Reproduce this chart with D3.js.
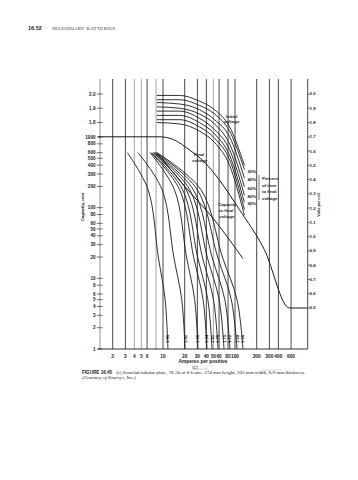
<!DOCTYPE html>
<html><head><meta charset="utf-8">
<script src="https://cdn.jsdelivr.net/npm/d3@7"></script>
<style>body{margin:0;background:#fff}svg{display:block}</style>
</head><body><svg id="c" width="358" height="480"></svg>
<script>
// ---------- data ----------
const xTickLabels = [2,3,4,5,6,10,20,30,40,50,60,80,100,200,300,400,600];
const xGridValues = [2,3,4,5,6,8,10,20,30,40,50,60,80,100,200,300,400,600];
const capTickValues = [1,2,3,4,5,6,8,10,20,30,40,50,60,80,100,200,300,400,500,600,800,1000];
const leftVoltTicks = [1.8,1.9,2.0];
const rightVoltTicks = [0.5,0.6,0.7,0.8,0.9,1.0,1.1,1.2,1.3,1.4,1.5,1.6,1.7,1.8,1.9,2.0];

// final voltage curve (amperes, volts)
const finalVoltI = [1.25, 9, 14, 23, 38, 60, 115, 255, 570, 1000];
const finalVoltV = [1.70, 1.70, 1.68, 1.61, 1.52, 1.40, 1.19, 0.91, 0.50, 0.50];

// upper family: voltage vs current (initial voltage and % of time to final voltage)
const upperI = [8.2, 17, 32, 52, 84, 135];
const upperV1 = [1.99, 1.99, 1.95, 1.89, 1.77, 1.50];
const upperV2 = [1.96, 1.96, 1.92, 1.86, 1.74, 1.47];
const upperV3 = [1.94, 1.93, 1.89, 1.82, 1.70, 1.41];
const upperV4 = [1.91, 1.90, 1.86, 1.79, 1.65, 1.35];
const upperV5 = [1.88, 1.88, 1.83, 1.75, 1.61, 1.29];
const upperV6 = [1.85, 1.85, 1.80, 1.72, 1.57, 1.24];
const upperV7 = [1.82, 1.82, 1.77, 1.69, 1.54, 1.19];
const upperV8 = [1.80, 1.79, 1.74, 1.66, 1.50, 1.15];
const percentLabels = ["20%","40%","60%","80%","90%"];

// lower family: capacity (min) vs current, one curve per final voltage
const capC = [600, 180, 20, 5, 1];
const curveLabels = ["1.96","1.92","1.88","1.84","1.81","1.78","1.75","1.72","1.69","1.66"];
const capI196 = [3.2, 6.2, 8.6, 10.7, 11.7];
const capI192 = [4.5, 9.7, 14.1, 18.2, 20.2];
const capI188 = [6.6, 14.4, 21.2, 27.5, 30.6];
const capI184 = [6.8, 17.0, 26.6, 36.0, 40.8];
const capI181 = [7.0, 18.7, 30.2, 41.9, 47.9];
const capI178 = [7.3, 21.0, 35.2, 50.2, 58.0];
const capI175 = [7.5, 23.5, 41.1, 60.1, 70.3];
const capI172 = [7.7, 26.3, 47.9, 72.1, 85.1];
const capI169 = [8.0, 29.9, 57.3, 88.8, 106.6];
const capI166 = [8.25, 33.6, 66.8, 106.6, 129];

// capacity to final voltage
const capFinalI = [8, 9.75, 20, 50, 129];
const capFinalC = [600, 480, 200, 70, 19];

// ---------- drawing ----------
const svg = d3.select("#c");
const L = 98, R = 307.7, T = 79, B = 349;
const x = d3.scaleLog().domain([1.25, 1000]).range([L, 98 + 72*Math.log10(800)]);
const yC = d3.scaleLog().domain([1, 1000]).range([B, 137]);
const yV = d3.scaleLinear().domain([0.5, 2.0]).range([308, 94]);
const sans = "Liberation Sans, Arial, sans-serif";
const serif = "Liberation Serif, Times New Roman, serif";
const ink = "#1a1a1a";

// header
svg.append("text").attr("x", 28).attr("y", 30).attr("font-family", sans).attr("font-weight","bold")
  .attr("font-size", 5.5).attr("fill", ink).text("16.52");
svg.append("text").attr("x", 52).attr("y", 30).attr("font-family", serif)
  .attr("font-size", 5).attr("fill", "#333").attr("letter-spacing", 0.3).text("SECONDARY BATTERIES");

// vertical grid
const gray = new Set([4,5,8,50]);
svg.append("g").selectAll("line").data(xGridValues).join("line")
  .attr("x1", d => x(d)).attr("x2", d => x(d)).attr("y1", T).attr("y2", B)
  .attr("stroke", d => gray.has(d) ? "#999" : "#333").attr("stroke-width", 0.9);

// frame: left, right, bottom
svg.append("line").attr("x1", 100).attr("x2", 100).attr("y1", T).attr("y2", B).attr("stroke", "#777").attr("stroke-width", 0.8);
svg.append("line").attr("x1", R).attr("x2", R).attr("y1", T).attr("y2", B).attr("stroke", "#333").attr("stroke-width", 0.9);
svg.append("line").attr("x1", L).attr("x2", R).attr("y1", B).attr("y2", B).attr("stroke", ink).attr("stroke-width", 0.9);

// left axis: capacity ticks + top volt ticks
const lg = svg.append("g").attr("font-family", sans).attr("font-size", 4.6).attr("font-weight", "bold").attr("fill", ink);
capTickValues.forEach(v => {
  lg.append("line").attr("x1", 96.7).attr("x2", 102.7).attr("y1", yC(v)).attr("y2", yC(v)).attr("stroke", ink).attr("stroke-width", 0.6);
  lg.append("text").attr("x", 95.5).attr("y", yC(v)).attr("dy", "0.35em").attr("text-anchor", "end").text(d3.format("d")(v));
});
leftVoltTicks.forEach(v => {
  lg.append("line").attr("x1", 96.7).attr("x2", 102.7).attr("y1", yV(v)).attr("y2", yV(v)).attr("stroke", ink).attr("stroke-width", 0.6);
  lg.append("text").attr("x", 95.5).attr("y", yV(v)).attr("dy", "0.35em").attr("text-anchor", "end").text(d3.format(".1f")(v));
});
svg.append("text").attr("transform", `translate(84,207) rotate(-90)`).attr("text-anchor", "middle")
  .attr("font-family", sans).attr("font-size", 4.4).attr("font-weight","bold").attr("fill", ink).text("Capacity, min");

// right axis
const rg = svg.append("g").attr("font-family", sans).attr("font-size", 4.2).attr("font-weight", "bold").attr("fill", ink);
rightVoltTicks.forEach(v => {
  rg.append("line").attr("x1", R).attr("x2", R+2.3).attr("y1", yV(v)).attr("y2", yV(v)).attr("stroke", ink).attr("stroke-width", 0.6);
  rg.append("text").attr("x", R+2).attr("y", yV(v)).attr("dy", "0.35em").text(d3.format(".1f")(v));
});
svg.append("text").attr("transform", `translate(320,205) rotate(-90)`).attr("text-anchor", "middle")
  .attr("font-family", sans).attr("font-size", 3.8).attr("font-weight","bold").attr("fill", ink).text("Volts per cell");

// bottom axis labels
const bg = svg.append("g").attr("font-family", sans).attr("font-size", 4.8).attr("font-weight", "bold").attr("fill", ink);
xTickLabels.forEach(v => {
  bg.append("text").attr("x", x(v)).attr("y", 357.5).attr("text-anchor", "middle").text(v);
});
svg.append("text").attr("x", 203).attr("y", 363).attr("text-anchor", "middle").attr("font-family", sans)
  .attr("font-size", 4.8).attr("font-weight", "bold").attr("fill", ink).text("Amperes per positive");
svg.append("text").attr("x", 195).attr("y", 369).attr("text-anchor", "middle").attr("font-family", sans)
  .attr("font-size", 4.6).attr("fill", ink).text("(c)");
svg.append("line").attr("x1", 198).attr("x2", 208).attr("y1", 369).attr("y2", 369).attr("stroke", "#888").attr("stroke-width", 0.4);
svg.append("line").attr("x1", 262).attr("x2", 282).attr("y1", 370).attr("y2", 370).attr("stroke", "#aaa").attr("stroke-width", 0.4);

// caption
const cap = svg.append("text").attr("x", 82).attr("y", 373.5).attr("font-family", serif).attr("font-size", 5).attr("fill", ink);
cap.append("tspan").attr("font-family", sans).attr("font-weight", "bold").attr("font-size", 4.6).text("FIGURE 16.45");
cap.append("tspan").attr("dx", 4).text("(c) Ironclad tubular plate, 78 Ah at 8 h rate; 274 mm height, 203 mm width, 8.9 mm thickness.");
svg.append("text").attr("x", 82).attr("y", 378.5).attr("font-family", serif).attr("font-size", 5).attr("fill", ink)
  .attr("font-style", "italic").text("(Courtesy of Enersys, Inc.)");

// curves
const lineV = d3.line().x(d => x(d[0])).y(d => yV(d[1])).curve(d3.curveMonotoneX);
const lineC = d3.line().x(d => x(d[0])).y(d => yC(d[1])).curve(d3.curveCatmullRom.alpha(0.5));
const zip = (a, b) => a.map((v, i) => [v, b[i]]);

const plot = svg.append("g").attr("fill", "none").attr("stroke", ink).attr("stroke-width", 0.9);
plot.append("path").attr("d", lineV(zip(finalVoltI, finalVoltV))).attr("stroke-width", 1);
[upperV1, upperV2, upperV3, upperV4, upperV5, upperV6, upperV7, upperV8].forEach(vs => {
  plot.append("path").attr("d", lineV(zip(upperI, vs)));
});
const capCurves = [capI196, capI192, capI188, capI184, capI181, capI178, capI175, capI172, capI169, capI166];
capCurves.forEach(is => plot.append("path").attr("d", lineC(zip(is, capC))));
plot.append("path").attr("d", lineC(zip(capFinalI, capFinalC))).attr("stroke-width", 1);

// curve end labels (rotated)
const el = svg.append("g").attr("font-family", sans).attr("font-size", 4.2).attr("font-weight", "bold").attr("fill", ink);
capCurves.forEach((is, i) => {
  el.append("text").attr("transform", `translate(${x(is[is.length-1]) + 1.5},339) rotate(-90)`)
    .attr("text-anchor", "middle").text(curveLabels[i]);
});

// annotations
const an = svg.append("g").attr("font-family", sans).attr("font-size", 4.4).attr("font-weight", "bold").attr("fill", ink);
an.append("text").attr("x", 226).attr("y", 118).text("Initial");
an.append("text").attr("x", 224).attr("y", 123).text("voltage");
an.append("text").attr("x", 194).attr("y", 156).text("Final");
an.append("text").attr("x", 192).attr("y", 162).text("voltage");
an.append("text").attr("x", 218).attr("y", 206).text("Capacity");
an.append("text").attr("x", 219).attr("y", 212).text("to final");
an.append("text").attr("x", 219).attr("y", 218).text("voltage");
const pctY = [yV(upperV2[5]), yV(upperV3[5]), yV(upperV4[5]), yV(upperV5[5]), yV(upperV6[5])];
percentLabels.forEach((p, i) => an.append("text").attr("x", x(upperI[5]) + 3).attr("y", pctY[i] + 3).text(p));
["Percent","of time","to final","voltage"].forEach((t, i) =>
  an.append("text").attr("x", 262).attr("y", 180 + i*6.5).text(t));
svg.append("line").attr("x1", 259).attr("x2", 259).attr("y1", 175).attr("y2", 200).attr("stroke", ink).attr("stroke-width", 0.6);
</script></body></html>
